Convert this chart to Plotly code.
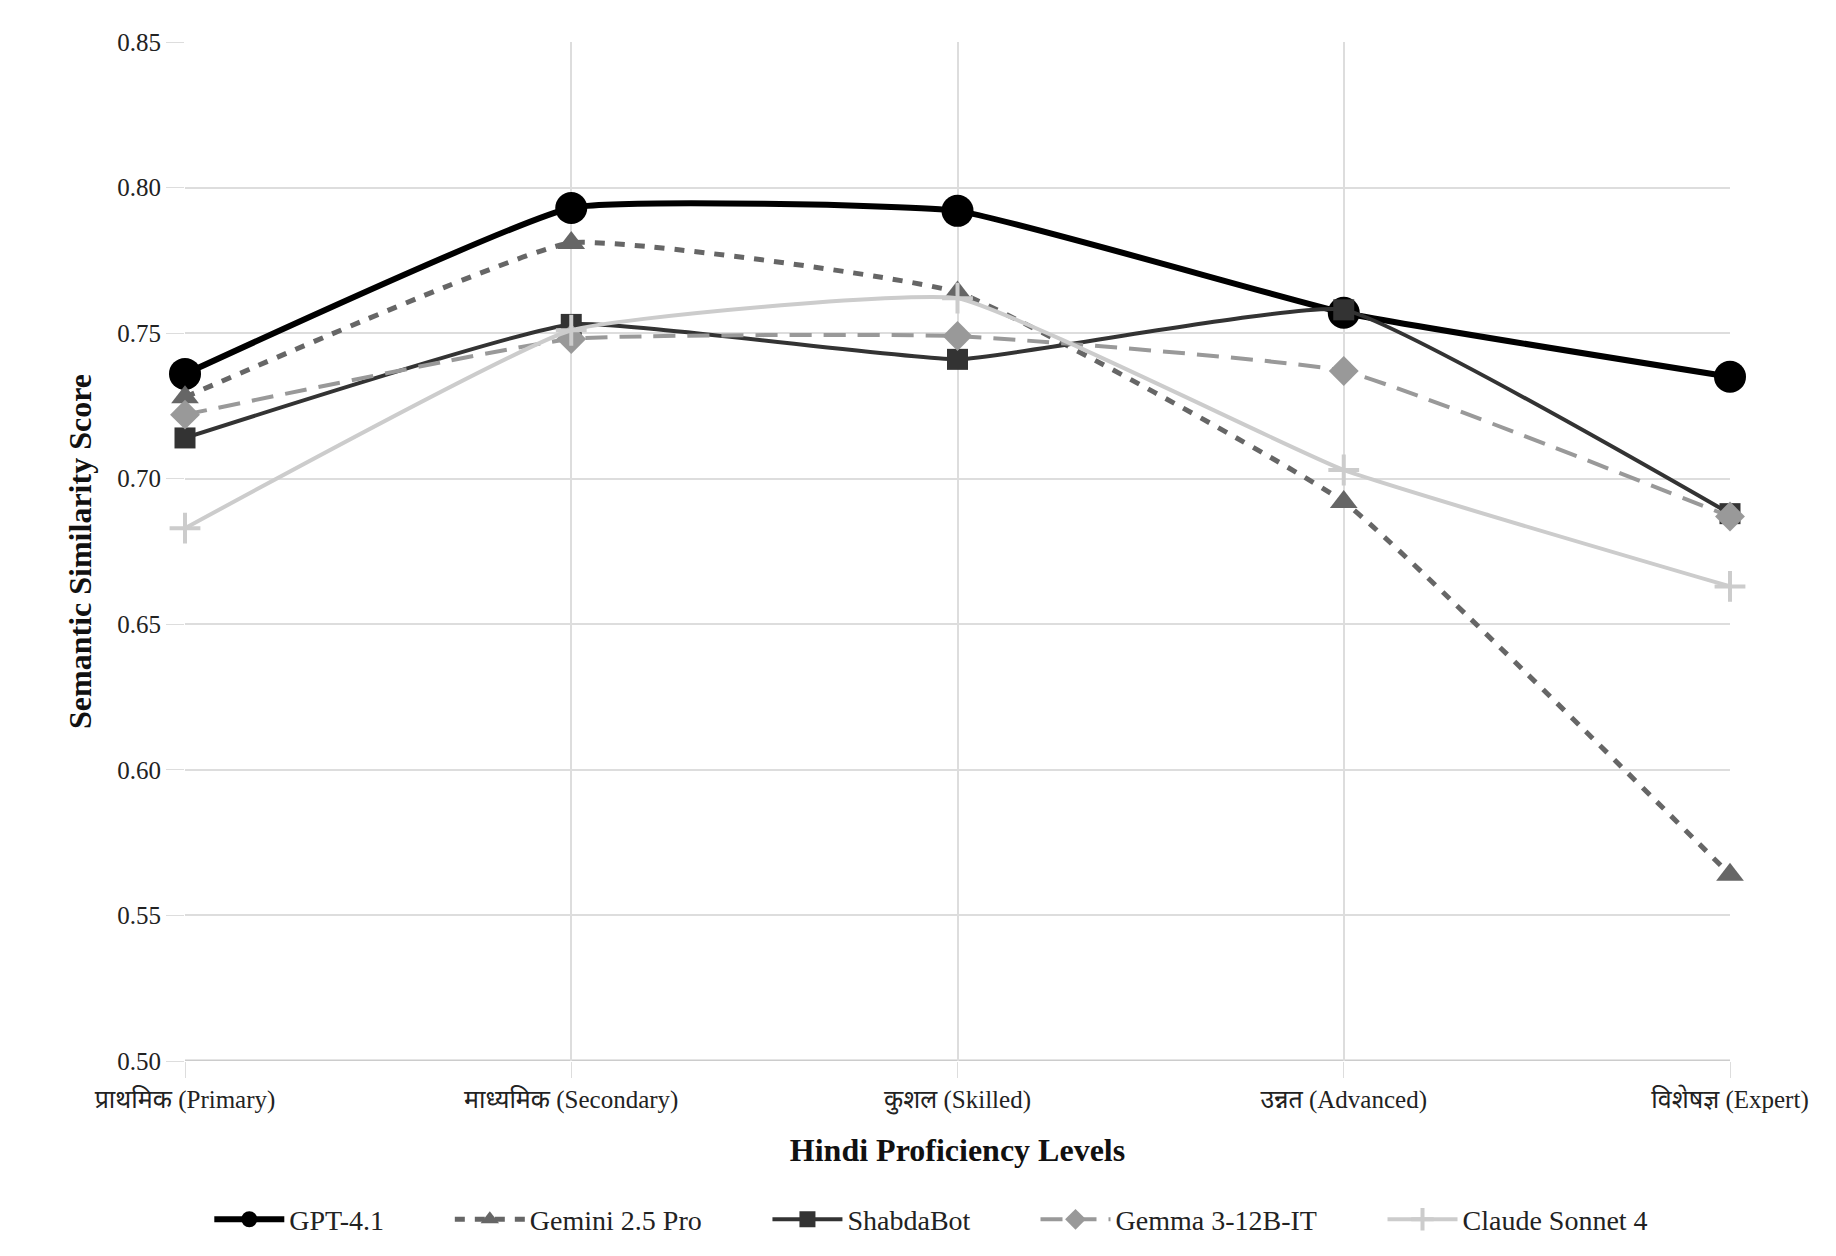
import plotly.graph_objects as go

levels = ["प्राथमिक (Primary)", "माध्यमिक (Secondary)", "कुशल (Skilled)", "उन्नत (Advanced)", "विशेषज्ञ (Expert)"]
gpt41 = [0.736, 0.793, 0.792, 0.757, 0.735]
gemini25 = [0.728, 0.781, 0.764, 0.692, 0.564]
shabdabot = [0.714, 0.753, 0.741, 0.758, 0.688]
gemma3 = [0.722, 0.748, 0.749, 0.737, 0.687]
claude4 = [0.683, 0.751, 0.762, 0.703, 0.663]
y_ticks = [0.50, 0.55, 0.60, 0.65, 0.70, 0.75, 0.80, 0.85]

series = [
    ("GPT-4.1", gpt41, "#000000", 6, "solid", "circle", 32),
    ("Gemini 2.5 Pro", gemini25, "#666666", 5, "10px,10px", "triangle-up", 24),
    ("ShabdaBot", shabdabot, "#333333", 4, "solid", "square", 21),
    ("Gemma 3-12B-IT", gemma3, "#999999", 4, "22px,12px", "diamond", 23),
    ("Claude Sonnet 4", claude4, "#cccccc", 4, "solid", "cross-thin", 22),
]
legend_x = [0.114, 0.245, 0.418, 0.564, 0.753]

font_family = "Liberation Serif, Times New Roman, Noto Serif, Noto Sans, serif"

fig = go.Figure()
layout_legends = {}
for i, (name, vals, color, w, dash, sym, size) in enumerate(series):
    lg = "legend" if i == 0 else f"legend{i+1}"
    fig.add_trace(go.Scatter(
        x=levels, y=vals, name=name, mode="lines+markers", legend=lg,
        cliponaxis=False,
        line=dict(color=color, width=w, dash=dash, shape="spline", smoothing=0.35),
        marker=dict(symbol=sym, size=size, color=color,
                    line=dict(color=color, width=4 if sym == "cross-thin" else 0)),
    ))
    layout_legends[lg] = dict(
        orientation="h", x=legend_x[i], xanchor="left", xref="container",
        y=0.029, yanchor="middle", yref="container",
        font=dict(size=28, family=font_family, color="#222"),
        itemwidth=70, bgcolor="rgba(0,0,0,0)",
    )

fig.update_layout(
    width=1836, height=1256,
    margin=dict(l=185, r=106, t=42, b=195),
    plot_bgcolor="white", paper_bgcolor="white",
    font=dict(family=font_family, size=25, color="#222"),
    showlegend=True,
    **layout_legends,
)
fig.update_xaxes(
    type="category", range=[0, 4],
    showgrid=True, gridcolor="#dddddd", gridwidth=1.5,
    ticks="outside", ticklen=16, tickcolor="#dddddd",
    showline=False, zeroline=False,
    tickfont=dict(size=25, family=font_family, color="#222"),
    title=dict(text="<b>Hindi Proficiency Levels</b>", font=dict(size=32, family=font_family, color="#111"), standoff=24),
)
fig.update_yaxes(
    range=[0.5, 0.85], tickvals=y_ticks, tickformat=".2f",
    showgrid=True, gridcolor="#dddddd", gridwidth=1.5,
    ticks="outside", ticklen=18, tickcolor="#dddddd",
    showline=False, zeroline=False,
    tickfont=dict(size=25, family=font_family, color="#222"),
    title=dict(text="<b>Semantic Similarity Score</b>", font=dict(size=32, family=font_family, color="#111"), standoff=16),
)
fig.add_shape(type="line", xref="paper", yref="y", x0=0, x1=1, y0=0.5, y1=0.5,
              line=dict(color="#cccccc", width=3), layer="below")

fig.write_html("out.html")
